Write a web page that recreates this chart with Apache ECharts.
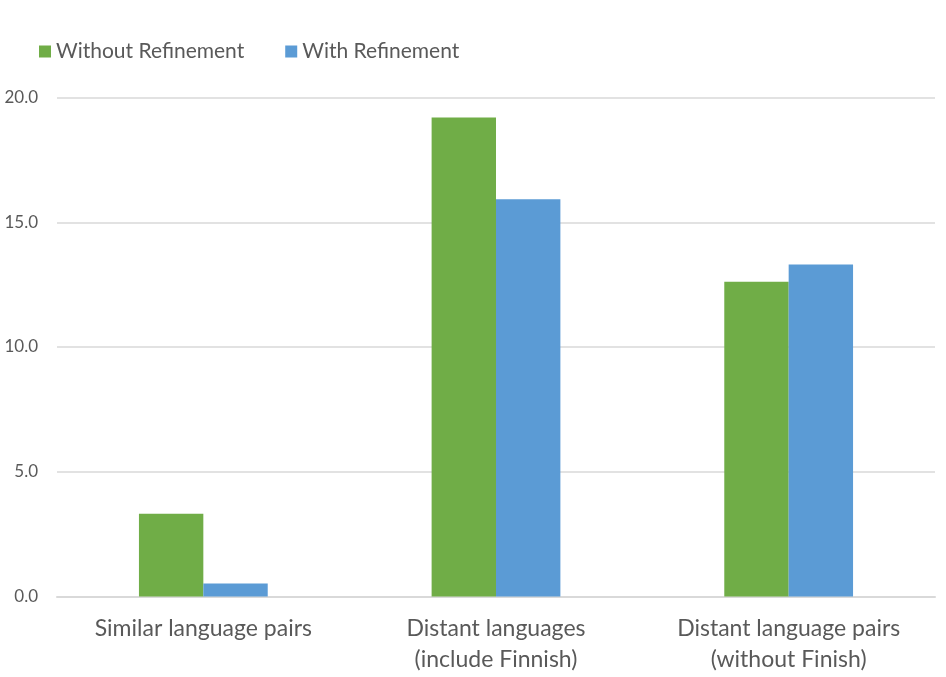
<!DOCTYPE html>
<html>
<head>
<meta charset="utf-8">
<script src="https://cdn.jsdelivr.net/npm/echarts@6/dist/echarts.min.js"></script>
<style>
  html, body { margin: 0; padding: 0; background: #fff; }
  #chart { width: 946px; height: 677px; }
</style>
</head>
<body>
<div id="chart"></div>
<script>
const categories = ['Similar language pairs', 'Distant languages\n(include Finnish)', 'Distant language pairs\n(without Finish)']
const withoutRefinement = [3.32, 19.2, 12.62]
const withRefinement = [0.52, 15.92, 13.31]
const yTicks = { min: 0, max: 20, interval: 5 }

// 基于准备好的dom，初始化echarts实例
let chart = echarts.init(document.getElementById('chart'))
chart.setOption({
  textStyle: { fontFamily: 'Lato' },
  legend: {
    left: 34,
    top: 36,
    itemWidth: 12,
    itemHeight: 12,
    itemGap: 41,
    icon: 'rect',
    textStyle: { fontSize: 21, color: '#595959', fontFamily: 'Lato' }
  },
  grid: { left: 57, right: 11, top: 97.5, bottom: 80.5 },
  xAxis: {
    type: 'category',
    data: categories,
    axisLine: { lineStyle: { color: '#d9d9d9', width: 2 } },
    axisTick: { show: false },
    axisLabel: { fontSize: 23, color: '#595959', lineHeight: 31, margin: 17 }
  },
  yAxis: {
    type: 'value',
    min: yTicks.min,
    max: yTicks.max,
    interval: yTicks.interval,
    axisLabel: {
      fontSize: 17,
      color: '#595959',
      margin: 19,
      formatter: v => v.toFixed(1)
    },
    splitLine: { lineStyle: { color: '#d9d9d9', width: 1.5 } }
  },
  series: [
    {
      name: 'Without Refinement',
      type: 'bar',
      data: withoutRefinement,
      barWidth: '22%',
      barGap: '0%',
      itemStyle: { color: '#70ad47' }
    },
    {
      name: 'With Refinement',
      type: 'bar',
      data: withRefinement,
      barWidth: '22%',
      itemStyle: { color: '#5b9bd5' }
    }
  ]
})
</script>
</body>
</html>
